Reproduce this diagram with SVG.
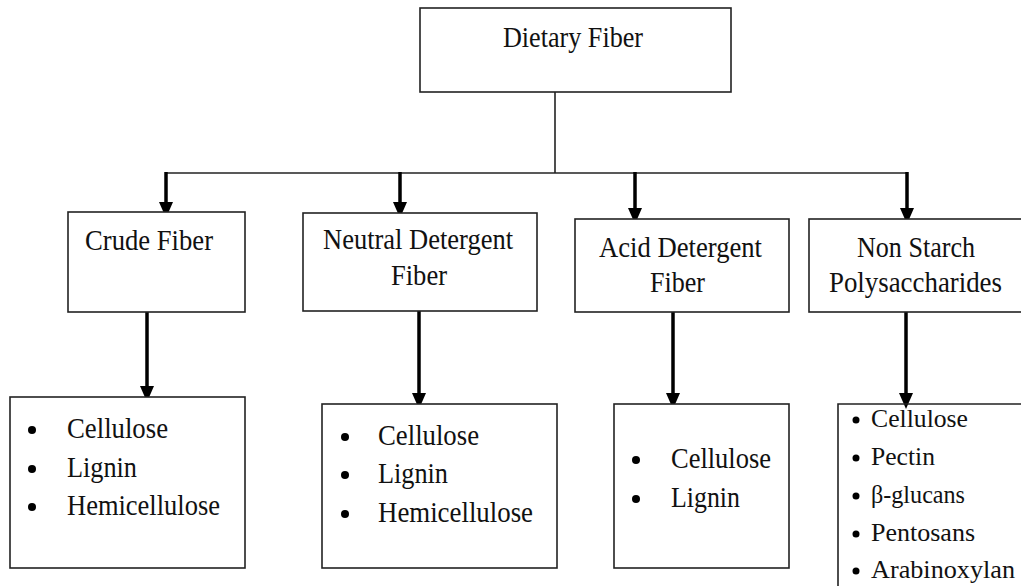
<svg xmlns="http://www.w3.org/2000/svg" width="1021" height="586" viewBox="0 0 1021 586">
<style>
text{font-family:"Liberation Serif","DejaVu Serif",serif;font-size:30px;fill:#111;}
.nsp{font-size:26px;}
.box{fill:#fff;stroke:#222;stroke-width:1.6;}
.thin{stroke:#222;stroke-width:1.6;fill:none;}
.arr{stroke:#000;stroke-width:3.5;fill:none;marker-end:url(#ah);}
.dot{fill:#000;}
</style>
<defs>
<marker id="ah" viewBox="0 0 16 14" refX="8" refY="7" markerWidth="16" markerHeight="14" markerUnits="userSpaceOnUse" orient="auto">
<path d="M0,0 L16,7 L0,14 z" fill="#000"/>
</marker>
</defs>
<rect width="1021" height="586" fill="#fff"/>

<g id="connectors">
<line class="thin" x1="555" y1="92" x2="555" y2="173"/>
<line class="thin" x1="165" y1="173" x2="908" y2="173"/>
<line class="arr" x1="166" y1="172" x2="166" y2="210"/>
<line class="arr" x1="400" y1="172" x2="400" y2="210"/>
<line class="arr" x1="635" y1="172" x2="635" y2="216"/>
<line class="arr" x1="907" y1="172" x2="907" y2="216"/>
<line class="arr" x1="147" y1="312" x2="147" y2="394"/>
<line class="arr" x1="419" y1="311" x2="419" y2="401"/>
<line class="arr" x1="673" y1="312" x2="673" y2="401"/>
<line class="arr" x1="906" y1="312" x2="906" y2="401"/>
</g>

<g id="dietary-fiber">
<rect class="box" x="420" y="8" width="311" height="84"/>
<text x="503" y="47" textLength="140" lengthAdjust="spacingAndGlyphs">Dietary Fiber</text>
</g>

<g id="crude-fiber">
<rect class="box" x="68" y="212" width="177" height="100"/>
<text x="85" y="250" textLength="128" lengthAdjust="spacingAndGlyphs">Crude Fiber</text>
</g>

<g id="neutral-detergent-fiber">
<rect class="box" x="303" y="213" width="234" height="98"/>
<text x="323" y="249" textLength="190" lengthAdjust="spacingAndGlyphs">Neutral Detergent</text>
<text x="391" y="285" textLength="56" lengthAdjust="spacingAndGlyphs">Fiber</text>
</g>

<g id="acid-detergent-fiber">
<rect class="box" x="575" y="219" width="214" height="93"/>
<text x="599" y="257" textLength="163" lengthAdjust="spacingAndGlyphs">Acid Detergent</text>
<text x="650" y="292" textLength="55" lengthAdjust="spacingAndGlyphs">Fiber</text>
</g>

<g id="non-starch-polysaccharides">
<rect class="box" x="809" y="219" width="220" height="93"/>
<text x="857" y="257" textLength="118" lengthAdjust="spacingAndGlyphs">Non Starch</text>
<text x="829" y="292" textLength="173" lengthAdjust="spacingAndGlyphs">Polysaccharides</text>
</g>

<g id="crude-fiber-list">
<rect class="box" x="10" y="397" width="235" height="171"/>
<circle class="dot" cx="32" cy="430" r="4"/>
<circle class="dot" cx="32" cy="469" r="4"/>
<circle class="dot" cx="32" cy="507" r="4"/>
<text x="67" y="438" textLength="101" lengthAdjust="spacingAndGlyphs">Cellulose</text>
<text x="67" y="477" textLength="70" lengthAdjust="spacingAndGlyphs">Lignin</text>
<text x="67" y="515" textLength="153" lengthAdjust="spacingAndGlyphs">Hemicellulose</text>
</g>

<g id="ndf-list">
<rect class="box" x="322" y="404" width="235" height="164"/>
<circle class="dot" cx="345" cy="437" r="4"/>
<circle class="dot" cx="345" cy="475" r="4"/>
<circle class="dot" cx="345" cy="514" r="4"/>
<text x="378" y="445" textLength="101" lengthAdjust="spacingAndGlyphs">Cellulose</text>
<text x="378" y="483" textLength="70" lengthAdjust="spacingAndGlyphs">Lignin</text>
<text x="378" y="522" textLength="155" lengthAdjust="spacingAndGlyphs">Hemicellulose</text>
</g>

<g id="adf-list">
<rect class="box" x="614" y="404" width="175" height="164"/>
<circle class="dot" cx="636" cy="460" r="4"/>
<circle class="dot" cx="636" cy="499" r="4"/>
<text x="671" y="468" textLength="100" lengthAdjust="spacingAndGlyphs">Cellulose</text>
<text x="671" y="507" textLength="69" lengthAdjust="spacingAndGlyphs">Lignin</text>
</g>

<g id="nsp-list">
<path class="thin" d="M838,586 L838,404 L1021,404"/>
<circle class="dot" cx="856" cy="420" r="3.5"/>
<circle class="dot" cx="856" cy="458" r="3.5"/>
<circle class="dot" cx="856" cy="496" r="3.5"/>
<circle class="dot" cx="856" cy="534" r="3.5"/>
<circle class="dot" cx="856" cy="571" r="3.5"/>
<text class="nsp" x="871" y="427" textLength="97" lengthAdjust="spacingAndGlyphs">Cellulose</text>
<text class="nsp" x="871" y="465" textLength="64" lengthAdjust="spacingAndGlyphs">Pectin</text>
<text class="nsp" x="871" y="503" textLength="94" lengthAdjust="spacingAndGlyphs">β-glucans</text>
<text class="nsp" x="871" y="541" textLength="104" lengthAdjust="spacingAndGlyphs">Pentosans</text>
<text class="nsp" x="871" y="578" textLength="144" lengthAdjust="spacingAndGlyphs">Arabinoxylan</text>
</g>
</svg>
